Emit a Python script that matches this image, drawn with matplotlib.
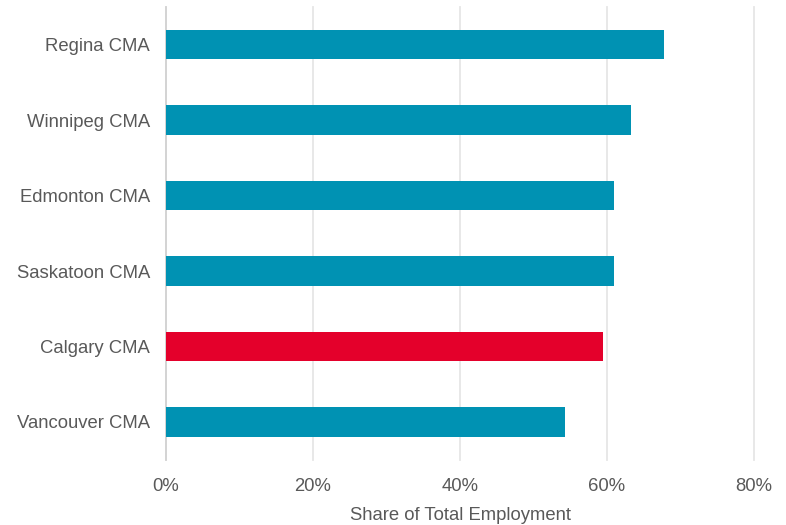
import matplotlib.pyplot as plt
from matplotlib.ticker import PercentFormatter

plt.rcParams['font.family'] = ['Liberation Sans', 'DejaVu Sans']

regions = ["Regina CMA", "Winnipeg CMA", "Edmonton CMA",
           "Saskatoon CMA", "Calgary CMA", "Vancouver CMA"]
share = [67.7, 63.2, 61.0, 60.9, 59.4, 54.3]
highlight = "Calgary CMA"

teal = "#0092B3"
red = "#E4002B"
text_grey = "#595959"
fs = 13.3

fig = plt.figure(figsize=(7.86, 5.25), dpi=100)
ax = fig.add_axes([0.2112, 0.1244, 0.7481, 0.8623])

ypos = list(range(len(regions)))[::-1]
colors = [red if r == highlight else teal for r in regions]
ax.barh(ypos, share, height=0.39, color=colors, zorder=3)

ax.set_xlim(0, 80)
ax.set_ylim(-0.5, len(regions) - 0.5)
ax.set_xticks([0, 20, 40, 60, 80])
ax.xaxis.set_major_formatter(PercentFormatter(decimals=0))
ax.set_yticks(ypos)
ax.set_yticklabels(regions)

ax.grid(axis='x', color='#e6e6e6', linewidth=1.3, zorder=0)
for gl in ax.get_xgridlines():
    gl.set_clip_on(False)
for s in ['top', 'right', 'bottom']:
    ax.spines[s].set_visible(False)
ax.spines['left'].set_color('#d0d0d0')
ax.spines['left'].set_linewidth(1.2)

ax.tick_params(axis='both', length=0, labelsize=fs, labelcolor=text_grey)
ax.tick_params(axis='x', pad=13)
ax.tick_params(axis='y', pad=11.5)
ax.set_xlabel("Share of Total Employment", fontsize=fs, color=text_grey, labelpad=8.5)

fig.savefig("out.png", dpi=100)
